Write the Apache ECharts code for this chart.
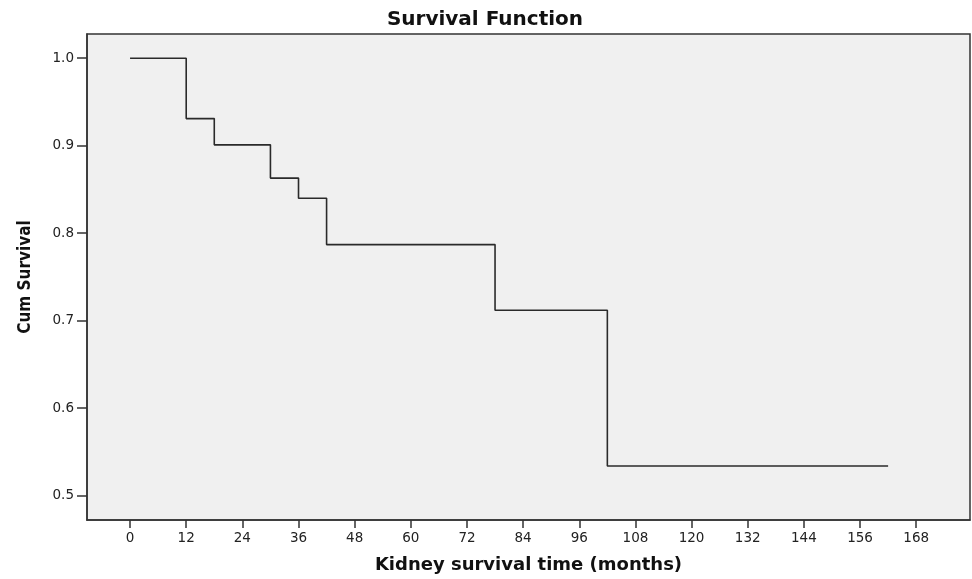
<!DOCTYPE html>
<html>
<head>
<meta charset="utf-8">
<script src="https://cdn.jsdelivr.net/npm/echarts@6/dist/echarts.min.js"></script>
<style>
  html, body { margin: 0; padding: 0; background: #fff; }
  #chart { width: 972px; height: 579px; }
</style>
</head>
<body>
<div id="chart"></div>
<script>
// Kaplan-Meier steps
const times = [0, 12, 18, 30, 36, 42, 78, 102, 162];
const survival = [1.0, 0.931, 0.901, 0.863, 0.840, 0.787, 0.712, 0.534, 0.534];
const xTicks = [0, 12, 24, 36, 48, 60, 72, 84, 96, 108, 120, 132, 144, 156, 168];
const yTicks = [0.5, 0.6, 0.7, 0.8, 0.9, 1.0];

const chart = echarts.init(document.getElementById('chart'));
const axisColor = '#333';

chart.setOption({
  animation: false,
  title: {
    text: 'Survival Function',
    left: 480,
    top: 5,
    textAlign: 'center',
    textStyle: { fontFamily: 'DejaVu Sans', fontWeight: 'bold', fontSize: 20, color: '#111' }
  },
  grid: {
    left: 87, right: 2, top: 34, bottom: 57,
    show: true,
    backgroundColor: '#f0f0f0',
    borderColor: axisColor,
    borderWidth: 1.5
  },
  xAxis: {
    type: 'value',
    min: -9.2,
    max: 179.5,
    name: 'Kidney survival time (months)',
    nameLocation: 'middle',
    nameGap: 36,
    nameTextStyle: { fontFamily: 'DejaVu Sans', fontWeight: 'bold', fontSize: 18, color: '#111' },
    axisLine: { onZero: false, lineStyle: { color: axisColor, width: 1.5 } },
    axisTick: { customValues: xTicks, length: 8, lineStyle: { color: axisColor, width: 1.5 } },
    axisLabel: { customValues: xTicks, fontFamily: 'DejaVu Sans', fontSize: 13.5, color: '#222', margin: 11 },
    splitLine: { show: false }
  },
  yAxis: {
    type: 'value',
    min: 0.4722,
    max: 1.0277,
    name: 'Cum Survival',
    nameLocation: 'middle',
    nameGap: 53,
    nameTextStyle: { fontFamily: 'DejaVu Sans Condensed', fontWeight: 'bold', fontSize: 17, color: '#111' },
    axisLine: { onZero: false, lineStyle: { color: axisColor, width: 1.5 } },
    axisTick: { customValues: yTicks, length: 10, lineStyle: { color: axisColor, width: 1.5 } },
    axisLabel: {
      customValues: yTicks,
      fontFamily: 'DejaVu Sans', fontSize: 13.5, color: '#222', margin: 13,
      formatter: v => v.toFixed(1)
    },
    splitLine: { show: false }
  },
  series: [{
    type: 'line',
    step: 'end',
    symbol: 'none',
    data: times.map((t, i) => [t, survival[i]]),
    lineStyle: { color: '#2a2a2a', width: 1.6 }
  }]
});
</script>
</body>
</html>
